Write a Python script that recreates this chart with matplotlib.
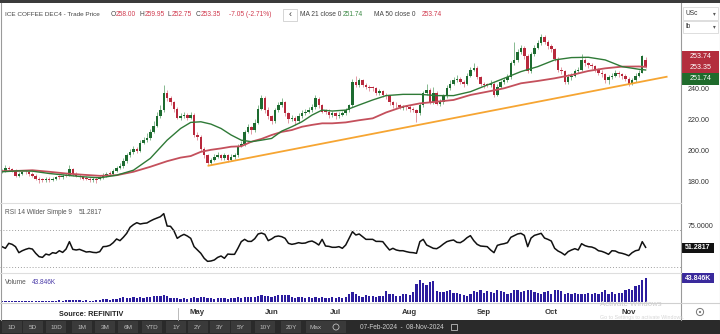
import numpy as np
import pandas as pd
import matplotlib
matplotlib.use('Agg')
import matplotlib.pyplot as plt
from matplotlib.patches import Rectangle, Circle

plt.rcParams['font.family'] = ['Liberation Sans', 'DejaVu Sans']

W, H = 720, 334

# ICE US sessions: weekdays minus exchange holidays
holidays = ['2024-02-19', '2024-03-29', '2024-05-27', '2024-06-19', '2024-07-04', '2024-09-02']
dates = pd.bdate_range('2024-02-07', '2024-11-08').drop(pd.to_datetime(holidays))

opens = [186.5, 187, 189, 188, 187, 184, 185, 186.5, 186, 185,
         184, 182, 181.5, 181, 182, 181, 182, 183.5, 183, 184.5,
         184, 188, 185, 184, 183, 182.5, 182, 181, 182, 181.5,
         183, 184, 185.5, 185, 187, 189, 190, 193, 197, 199,
         201, 200, 205, 207, 208, 212, 216, 222, 226, 237,
         234, 231, 227, 221, 222, 223, 221, 223, 210, 209,
         201, 197, 192, 194, 196, 197, 195, 197, 194, 196,
         197, 203, 204, 212, 215, 213, 218, 227, 234, 226,
         222, 219, 226, 229, 231, 224, 220, 221, 219, 222,
         224, 225, 226, 228, 233, 229, 226, 225, 223, 224,
         222, 223, 224, 226, 229, 244, 242, 245, 242, 241,
         240.5, 240, 237, 238, 236, 235, 231, 229.5, 229, 227.5,
         228.5, 228, 227, 226, 224, 229, 237, 239, 231, 237,
         230, 231, 235, 240, 243, 245, 246, 244, 243, 248,
         252, 253, 247, 243, 242.5, 242, 243, 236, 241, 244,
         245, 247, 256, 258, 263, 266, 261, 251, 262, 266,
         269, 273, 270, 267, 265, 259, 252, 251, 244, 247,
         248, 251, 252, 258, 256, 255, 254, 252, 250, 249,
         245, 247, 248, 250, 249, 248, 246, 243, 245, 248,
         250, 258.00]
highs = [188, 190.5, 190, 189, 188, 186, 187, 187.5, 187, 186,
         185, 183, 182.5, 183, 183, 183, 184, 184.5, 185, 185.5,
         191, 189, 186, 185, 184, 183.5, 183, 183, 183, 184,
         185.5, 186.5, 187, 188.5, 190, 192, 195, 198.5, 201, 203,
         202.5, 206.5, 209, 211, 214, 219, 225, 229, 242, 239,
         235, 232, 228, 224, 225, 224, 224.5, 224, 212, 210,
         202, 198, 195.5, 197.5, 199, 198, 198.5, 198, 197.5, 198.5,
         204.5, 206, 213.5, 217, 216, 220, 229, 236, 235, 228,
         223, 227.5, 231, 233.5, 232, 225, 223, 222, 224, 226,
         227, 228, 230, 236, 234.5, 230, 227, 226.5, 225.5, 225,
         224.5, 225.5, 227.5, 230, 246, 248, 246.5, 246, 243.5, 242,
         241.5, 241, 239.5, 239, 237, 236, 232, 231, 230, 229,
         229.5, 229, 228, 227, 230.5, 238.5, 243, 240, 241, 238,
         233, 236.5, 242, 245, 247, 248.5, 247, 245.5, 249.5, 253.5,
         256, 254, 248, 244, 243.5, 245, 244, 242.5, 245, 246.5,
         249, 257.5, 270, 265, 268, 267, 262, 263.5, 268, 271,
         275, 274, 271, 268.5, 266, 260, 253.5, 252, 249, 250,
         252.5, 253.5, 262, 259.5, 257, 256.5, 255, 253, 251.5, 250,
         248.5, 250, 251.5, 251, 250, 249, 247, 246.5, 249.5, 252,
         261.5, 259.95]
lows = [185.5, 186.5, 187, 186, 183, 183, 184.5, 185, 184, 183,
        181, 179.5, 180, 180, 180, 180.5, 181, 182, 182, 183,
        183.5, 184, 183, 182, 181, 181, 180, 180, 179.5, 181,
        182, 183, 184, 184.5, 186, 188, 189, 192, 196, 198,
        198.5, 199, 204, 205.5, 207, 211, 215, 221, 225, 232,
        229, 225, 220, 219.5, 221, 219.5, 220, 209, 207, 199.5,
        195, 190.5, 191, 193, 195, 194, 194, 192.5, 193, 194.5,
        196, 202, 203, 211, 210.5, 212, 217, 226, 224, 220,
        217, 218, 225, 228, 222.5, 218, 219, 216.5, 218, 221,
        223, 224, 225, 227, 227.5, 224, 223.5, 221, 221.5, 220,
        221, 222, 223, 225, 228, 240.5, 241, 240.5, 239.5, 238.5,
        238.5, 235.5, 236, 234.5, 233, 229.5, 227.5, 227.5, 226.5, 226,
        226, 225, 224.5, 218.5, 223, 228, 236, 230, 230, 229,
        228.5, 230, 234, 239, 242, 244, 242.5, 241, 242, 247,
        251, 246, 241.5, 240, 240.5, 241, 234.5, 235, 240, 243,
        244, 246, 255, 257, 262, 259, 249.5, 250, 261, 265,
        268, 268.5, 265.5, 263, 257.5, 250.5, 249, 242.5, 243, 245.5,
        247, 249.5, 251, 254, 253, 252.5, 250.5, 248.5, 247, 243.5,
        243, 246, 247, 247.5, 246, 244.5, 241.5, 242, 244, 247,
        249.5, 252.75]
closes = [187, 189, 188, 187, 184, 185, 186, 186, 185, 184,
          182, 181, 181, 182, 181, 182, 183, 183, 184, 184,
          188, 185, 184, 183, 182, 182, 181, 182, 181, 183,
          184, 185, 185, 187, 189, 190, 193, 197, 199, 201,
          200, 205, 207, 208, 212, 216, 222, 226, 237, 234,
          231, 227, 221, 222, 223, 221, 223, 210, 209, 201,
          197, 192, 194, 196, 197, 195, 197, 194, 196, 197,
          203, 204, 212, 215, 213, 218, 227, 234, 226, 222,
          219, 226, 229, 231, 224, 220, 221, 219, 222, 224,
          225, 226, 228, 234, 229, 225, 225, 223, 224, 222,
          223, 224, 226, 229, 244, 242, 245, 242, 241, 240,
          240, 237, 238, 236, 235, 231, 229, 229, 228, 228,
          228, 227, 226, 224, 229, 237, 239, 231, 237, 230,
          231, 235, 240, 243, 245, 246, 244, 243, 248, 252,
          253, 247, 243, 242, 242, 243, 236, 241, 244, 245,
          247, 256, 258, 263, 266, 261, 251, 262, 266, 269,
          273, 270, 267, 265, 259, 252, 251, 244, 247, 248,
          251, 252, 258, 256, 255, 254, 252, 250, 249, 245,
          247, 248, 250, 249, 248, 246, 243, 245, 248, 250,
          260.40, 253.35]

# volume in thousands of lots
volume_k = [2.5, 3.0, 2.0, 2.2, 3.5, 2.4, 2.0, 2.6, 3.0, 2.2,
            2.0, 2.8, 1.8, 2.3, 2.0, 2.6, 3.2, 4.0, 3.5, 4.2,
            5.0, 4.0, 3.6, 3.8, 3.2, 4.5, 3.4, 3.0, 3.6, 4.8,
            5.5, 6.2, 5.0, 7.0, 6.5, 7.5, 9.0, 8.2, 7.8, 9.5,
            8.0, 9.2, 8.5, 10.0, 9.4, 11.5, 12.0, 11.0, 12.5, 11.8,
            8.0, 7.2, 7.8, 6.8, 7.5, 7.0, 8.0, 9.0, 8.5, 9.8,
            9.2, 8.6, 7.5, 7.0, 8.0, 7.2, 7.6, 6.8, 8.2, 7.5,
            9.0, 8.4, 10.2, 9.5, 8.8, 10.5, 11.5, 12.5, 11.8, 12.2,
            10.5, 11.0, 12.8, 13.5, 12.4, 13.0, 9.0, 8.0, 8.8, 9.9,
            8.2, 9.0, 8.4, 9.9, 8.0, 8.8, 7.5, 8.2, 9.0, 8.0,
            9.5, 8.5, 10.0, 14.5, 18.7, 15.7, 11.1, 9.9, 12.8, 11.1,
            11.1, 9.9, 11.7, 12.2, 20.4, 15.7, 14.6, 11.1, 12.2, 14.6,
            15.7, 12.8, 18.7, 33.3, 39.1, 34.4, 30.3, 36.2, 37.8, 20.4,
            18.7, 18.7, 20.4, 21.6, 16.9, 17.5, 15.7, 12.8, 11.1, 14.6,
            20.4, 18.7, 21.6, 17.5, 20.4, 19.3, 17.5, 21.6, 20.4, 18.7,
            15.7, 16.9, 21.6, 22.8, 19.3, 20.4, 22.8, 21.6, 19.3, 16.9,
            15.7, 18.7, 20.4, 15.7, 21.6, 22.8, 20.4, 15.7, 17.5, 15.7,
            16.9, 15.7, 14.6, 15.7, 16.9, 14.6, 17.5, 15.7, 19.3, 21.6,
            15.7, 18.7, 15.7, 16.9, 17.5, 21.6, 24.5, 22.8, 28.5, 30.3,
            39.1, 43.846]

rsi = [52.0, 50.2, 55.6, 54.5, 52.0, 45.5, 47.6, 49.1, 50.2, 49.4,
       44.8, 41.2, 40.4, 44.0, 43.0, 45.5, 44.8, 47.6, 45.8, 49.4,
       57.4, 49.1, 48.4, 49.1, 47.6, 46.2, 46.6, 45.8, 45.5, 46.6,
       52.0, 52.3, 53.4, 56.3, 60.3, 58.5, 62.1, 66.4, 72.9, 75.8,
       77.9, 76.5, 77.2, 77.6, 79.7, 81.5, 83.0, 84.4, 87.7, 74.3,
       74.0, 69.3, 61.0, 63.5, 65.3, 63.5, 61.0, 52.0, 48.4, 44.8,
       39.4, 36.1, 36.5, 37.6, 40.4, 41.9, 39.4, 44.0, 43.7, 43.7,
       50.2, 57.4, 59.9, 57.7, 57.7, 60.6, 65.7, 66.7, 65.3, 58.5,
       60.3, 62.8, 63.5, 62.8, 61.0, 55.6, 54.5, 55.2, 56.3, 55.6,
       55.9, 57.4, 58.1, 56.3, 53.8, 59.9, 52.7, 52.3, 51.3, 51.3,
       52.0, 50.2, 53.8, 61.0, 68.2, 64.6, 65.7, 62.8, 59.9, 59.9,
       59.9, 57.7, 57.7, 57.4, 52.7, 48.4, 50.2, 48.4, 47.6, 47.6,
       46.6, 45.8, 45.5, 44.8, 57.4, 59.9, 53.8, 52.0, 50.2, 49.8,
       52.0, 54.9, 57.4, 58.5, 59.2, 56.7, 56.3, 58.5, 61.7, 63.9,
       58.5, 54.5, 52.7, 52.3, 52.0, 48.4, 45.5, 53.4, 54.5, 55.2,
       56.3, 62.1, 63.9, 65.7, 66.4, 64.2, 52.0, 61.3, 64.2, 65.3,
       66.4, 61.3, 59.9, 58.1, 50.2, 47.3, 45.5, 43.0, 46.6, 48.4,
       49.8, 48.4, 55.2, 53.1, 52.0, 51.6, 50.2, 47.6, 46.9, 45.5,
       43.7, 47.6, 47.3, 45.5, 44.8, 43.7, 42.2, 45.5, 47.6, 48.4,
       57.4, 51.2817]

# moving averages, sampled by session number
ma_days = [0, 5, 9, 14, 19, 24, 29, 34, 39, 44, 49, 53, 56, 59, 62, 65, 68, 71, 74, 77,
           80, 83, 86, 89, 92, 95, 98, 102, 106, 110, 114, 119, 124, 129, 134, 139, 144,
           149, 154, 159, 164, 169, 174, 179, 184, 189, 191]
ma21 = [186.4, 187.0, 186.8, 185.3, 184.2, 183.2, 182.5, 184.2, 187.4, 195.0,
        206.7, 214.2, 218.1, 218.5, 217.0, 214.2, 210.0, 206.7, 205.7, 206.7,
        207.8, 212.5, 215.3, 218.5, 222.8, 226.0, 225.4, 226.0, 229.3, 232.5,
        235.3, 236.1, 236.1, 235.3, 235.3, 237.8, 242.1, 246.4, 250.7, 253.9,
        258.2, 259.7, 259.9, 258.2, 253.9, 252.2, 251.74]
ma50 = [186.8, 187.0, 187.4, 186.4, 185.3, 184.5, 183.8, 184.2, 186.4, 189.6,
        193.2, 195.5, 196.5, 199.2, 200.5, 201.4, 202.5, 202.8, 205.7, 207.5,
        210.0, 212.0, 213.2, 215.3, 216.5, 217.5, 217.5, 218.1, 219.5, 220.7,
        224.5, 228.2, 230.3, 231.4, 232.5, 235.7, 237.8, 240.0, 243.2, 244.7,
        246.4, 248.5, 251.1, 252.8, 253.9, 254.0, 253.74]

# support line from the May low
trend_days = [61, 197.5]
trend_vals = [190.2, 247.5]

months = ['May', 'Jun', 'Jul', 'Aug', 'Sep', 'Oct', 'Nov']
month_nums = [5, 6, 7, 8, 9, 10, 11]
price_ticks = [180, 200, 220, 240]

GREEN = '#1d6b30'
RED = '#b8283c'
TXT = '#444444'


def box(x0, y0, x1, y1):
    return [x0 / W, 1 - y1 / H, (x1 - x0) / W, (y1 - y0) / H]


fig = plt.figure(figsize=(W / 100, H / 100), dpi=100)
fig.patch.set_facecolor('white')

ax_p = fig.add_axes(box(0, 4, 681, 202))
ax_r = fig.add_axes(box(0, 203, 681, 272))
ax_v = fig.add_axes(box(0, 273, 681, 303))

idx = np.arange(len(closes))
o, h, l, c = (np.array(a, dtype=float) for a in (opens, highs, lows, closes))
up = c >= o

for ax in (ax_p, ax_r, ax_v):
    ax.set_xlim(-0.6, 201.5)
    for s in ax.spines.values():
        s.set_visible(False)
    ax.tick_params(axis='both', length=0)
    ax.set_xticks([])

# candles
ax_p.vlines(idx, l, h, colors=np.where(up, '#86b990', '#e39aa5'), lw=0.7, zorder=2)
ax_p.bar(idx, np.maximum(np.abs(c - o), 0.5), bottom=np.minimum(o, c), width=0.74,
         color=np.where(up, GREEN, RED), lw=0, zorder=3)
ax_p.plot(ma_days, ma50, color='#c4505c', lw=1.3, zorder=4)
ax_p.plot(ma_days, ma21, color='#2f7a37', lw=1.0, zorder=5)
ax_p.plot(trend_days, trend_vals, color='#f6a532', lw=1.3, zorder=4, solid_capstyle='butt')
ax_p.set_ylim(167.0, 294.1)
ax_p.yaxis.tick_right()
ax_p.set_yticks(price_ticks)
ax_p.set_yticklabels(['%.2f' % t for t in price_ticks], fontsize=5.1, color='#333333')
ax_p.tick_params(axis='y', pad=5)

# RSI
ax_r.plot(idx, rsi, color='#111111', lw=1.1)
for lvl in (70, 30):
    ax_r.axhline(lvl, color='#a0a0a0', lw=0.7, ls=(0, (1, 2)))
ax_r.set_ylim(24.6, 99.2)
ax_r.yaxis.tick_right()
ax_r.set_yticks([75])
ax_r.set_yticklabels(['75.0000'], fontsize=5.1, color='#333333')
ax_r.tick_params(axis='y', pad=5)

# volume
ax_v.bar(idx, volume_k, width=0.66, color='#2c1d9e', lw=0)
ax_v.set_ylim(-0.9, 52.0)
ax_v.set_yticks([])
month_idx = [int(np.argmax(dates.month == m)) for m in month_nums]
ax_v.set_xticks(month_idx)
ax_v.set_xticklabels(months, fontsize=5.6, color='#333333', fontweight='bold')
ax_v.tick_params(axis='x', pad=4)

# frame, labels and toolbar drawn in pixel space
ui = fig.add_axes([0, 0, 1, 1], zorder=10)
ui.set_xlim(0, W)
ui.set_ylim(H, 0)
ui.axis('off')
ui.patch.set_alpha(0)

ui.add_patch(Rectangle((0, 0), W, 3, color='#3b3b3b', lw=0))
ui.plot([0.5, 0.5], [3, 320], color='#9a9a9a', lw=0.8)
ui.plot([719.5, 719.5], [3, 320], color='#b0b0b0', lw=0.8)
ui.plot([681, 681], [3, 320], color='#9a9a9a', lw=0.8)
for yy in (202.5, 272.5):
    ui.plot([0, 681], [yy, yy], color='#dedede', lw=0.8)
ui.plot([0, 720], [303, 303], color='#d0d0d0', lw=0.8)
ui.plot([178, 178], [308, 320], color='#b0b0b0', lw=0.6)

# header legend
fs = 4.8
header = [(5, 'ICE COFFEE DEC4 - Trade Price', TXT),
          (110.3, 'O', TXT), (115.6, '258.00', '#d03a4e'),
          (140, 'H', TXT), (145.2, '259.95', '#d03a4e'),
          (168, 'L', TXT), (172.2, '252.75', '#d03a4e'),
          (195.6, 'C', TXT), (200.8, '253.35', '#d03a4e'),
          (229, '-7.05 (-2.71%)', '#d03a4e'),
          (300, 'MA 21 close 0', TXT), (343, '251.74', '#3c8a45'),
          (374, 'MA 50 close 0', TXT), (422, '253.74', '#d03a4e')]
for x, s, col in header:
    ui.text(x, 15, s, fontsize=fs if x > 10 else 4.6, color=col, ha='left', va='center')
ui.add_patch(Rectangle((283, 9), 14, 12, fc='white', ec='#cfcfcf', lw=0.6))
ui.text(290, 15, '\u2039', fontsize=6.5, color='#333333', ha='center', va='center')

# unit selectors
for y0, s in ((7, 'USc'), (20.5, 'lb')):
    ui.add_patch(Rectangle((683, y0), 35, 12.5, fc='white', ec='#d8d8d8', lw=0.6))
    ui.text(685, y0 + 6.3, s, fontsize=fs, color='#333333', ha='left', va='center')
    ui.text(714, y0 + 6.3, '\u25be', fontsize=4, color='#555555', ha='center', va='center')

# last-value tags
tags = [(50.7, '253.74', '#b32d3d'), (61.5, '253.35', '#b32d3d'), (73, '251.74', '#1f6b2c')]
for y0, s, col in tags:
    ui.add_patch(Rectangle((682, y0), 37, 11.5, color=col, lw=0))
    ui.text(700.5, y0 + 5.9, s, fontsize=5.1, color='white', ha='center', va='center')
ui.add_patch(Rectangle((681.5, 242.5), 32.5, 10, color='#111111', lw=0))
ui.text(697.8, 247.6, '51.2817', fontsize=5.0, color='white', ha='center', va='center',
        fontweight='bold')
ui.add_patch(Rectangle((681.5, 273), 32.5, 10, color='#3a2a9c', lw=0))
ui.text(697.8, 278.1, '43.846K', fontsize=5.0, color='white', ha='center', va='center',
        fontweight='bold')

# panel captions
ui.text(5, 212, 'RSI 14 Wilder Simple 9', fontsize=4.7, color='#555555', va='center')
ui.text(79, 212, '51.2817', fontsize=4.7, color='#555555', va='center')
ui.text(5, 282, 'Volume', fontsize=4.7, color='#555555', va='center')
ui.text(32, 282, '43.846K', fontsize=4.7, color='#4a3aa8', va='center')

ui.text(59, 315, 'Source: REFINITIV', fontsize=5.2, color='#222222', fontweight='bold',
        va='center')
ui.text(600, 305, 'Activate Windows', fontsize=5.6, color='#cdcdcd', va='center')
ui.text(600, 318, 'Go to Settings to activate Windows.', fontsize=3.8, color='#d6d6d6',
        va='center')
ui.add_patch(Circle((700, 312), 3.6, fc='none', ec='#777777', lw=0.7))
ui.add_patch(Circle((700, 312), 1.1, fc='#777777', lw=0))

# range toolbar
ui.add_patch(Rectangle((0, 320), W, 14, color='#2a2a2a', lw=0))
buttons = ['1D', '5D', '10D', '1M', '3M', '6M', 'YTD', '1Y', '2Y', '3Y', '5Y', '10Y', '20Y', 'Max']
centers = [12, 33, 56, 82, 105, 128, 152, 176, 198, 220, 241, 265, 291, 316]
for s, cx in zip(buttons, centers):
    ui.add_patch(Rectangle((cx - 10, 321), 20, 12, color='#3a3a3a', lw=0))
    ui.text(cx, 327.3, s, fontsize=4.6, color='#bdbdbd', ha='center', va='center')
ui.add_patch(Rectangle((326, 321), 20, 12, color='#3a3a3a', lw=0))
ui.add_patch(Circle((336, 327), 3.0, fc='none', ec='#bdbdbd', lw=0.6))
ui.text(360, 327.3, '07-Feb-2024  -  08-Nov-2024', fontsize=4.7, color='#d0d0d0',
        ha='left', va='center')
ui.add_patch(Rectangle((451, 323.5), 6, 6, fc='none', ec='#bdbdbd', lw=0.6))

fig.savefig('out.png', dpi=100)
